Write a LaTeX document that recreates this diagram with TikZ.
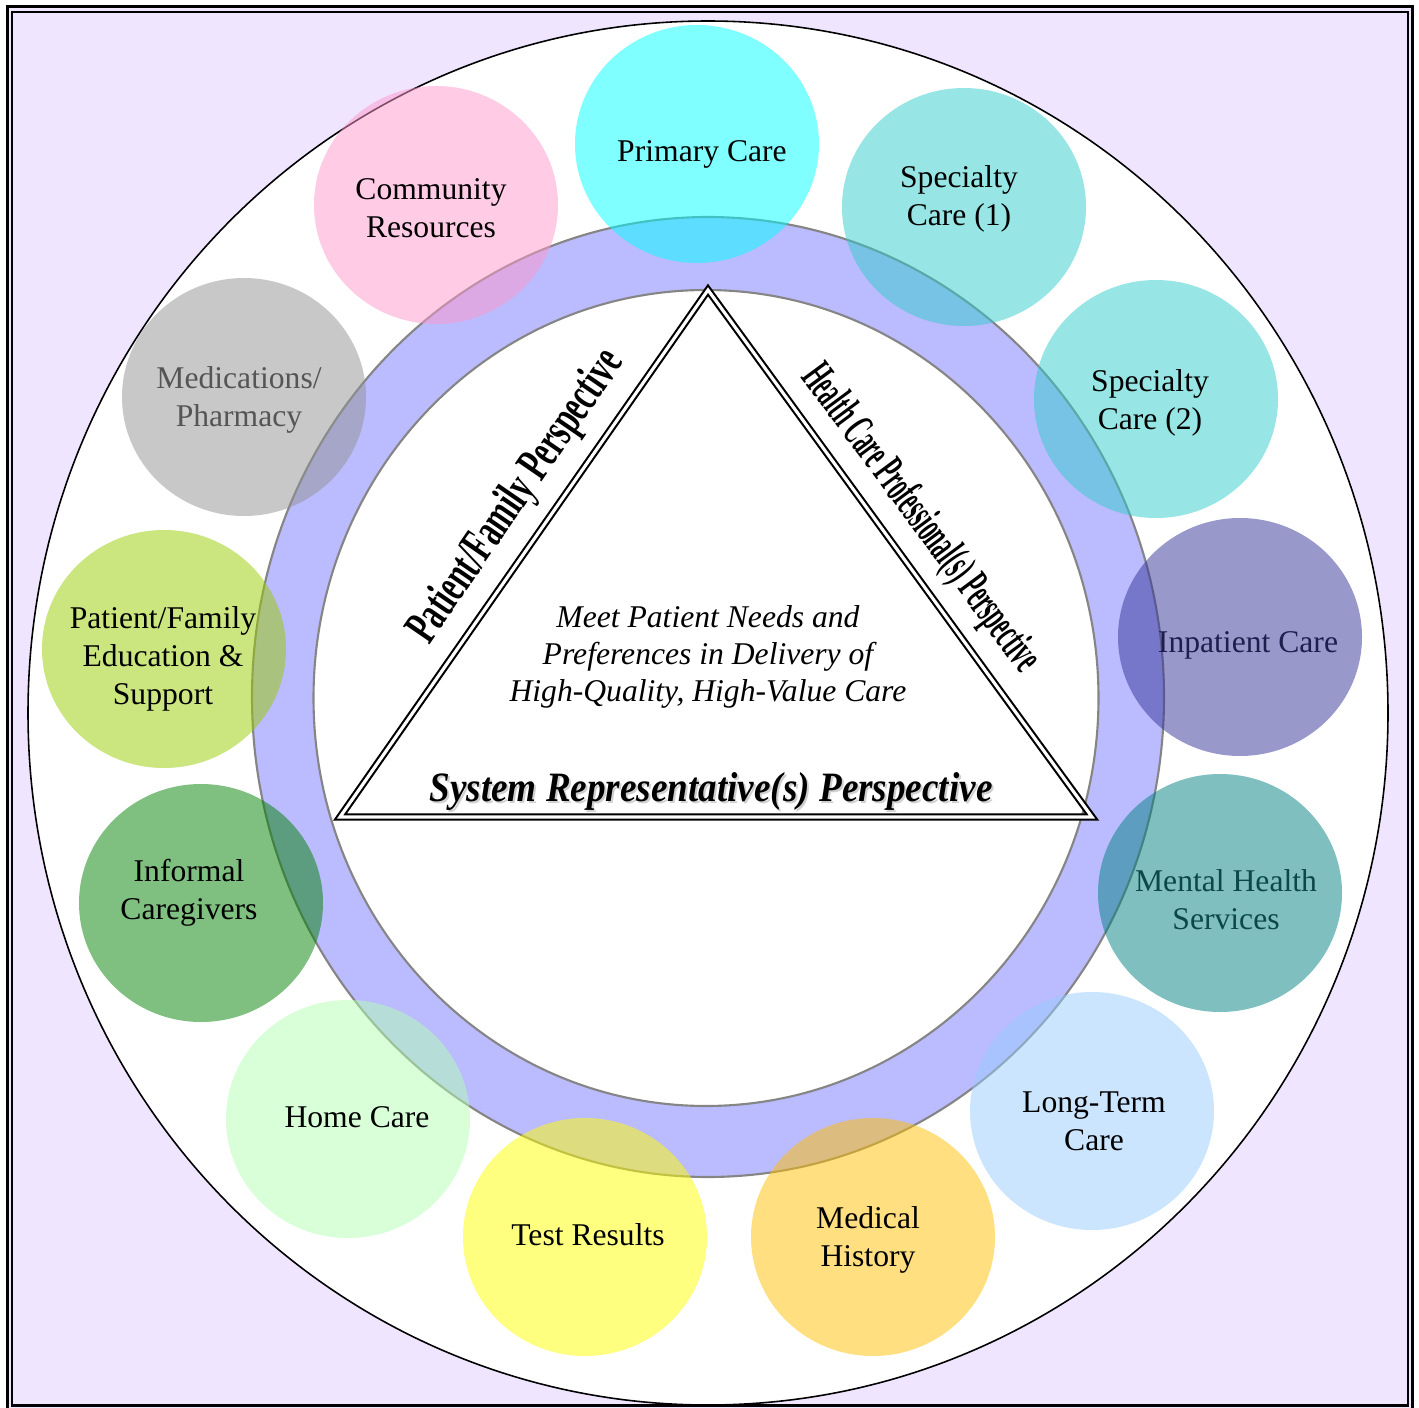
\documentclass[tikz,border=0pt]{standalone}
\usepackage{fontspec}
\setmainfont{Liberation Serif}
\usetikzlibrary{shapes.geometric}
\definecolor{lav}{HTML}{F0E5FF}
\definecolor{ringc}{HTML}{BBBBFF}
\definecolor{ringedge}{HTML}{858585}
\definecolor{cPC}{HTML}{00FFFF}
\definecolor{cSC}{HTML}{33CCCC}
\definecolor{cIN}{HTML}{333399}
\definecolor{cMH}{HTML}{008080}
\definecolor{cLT}{HTML}{99CCFF}
\definecolor{cHI}{HTML}{FFC000}
\definecolor{cTR}{HTML}{FFFF00}
\definecolor{cHC}{HTML}{B3FFB3}
\definecolor{cIC}{HTML}{008000}
\definecolor{cPF}{HTML}{99CC00}
\definecolor{cMD}{HTML}{929292}
\definecolor{cCR}{HTML}{FF99CC}
\definecolor{tMD}{HTML}{555555}
\definecolor{tIN}{HTML}{1F1F4D}
\definecolor{tMH}{HTML}{0D4747}
\begin{document}
\begin{tikzpicture}[x=0.1mm,y=-0.1mm,
  bub/.style={ellipse, minimum width=24.4mm, minimum height=23.8mm, inner sep=0pt, draw=none, fill opacity=0.5},
  lbl/.style={align=center, font=\fontsize{9}{10.8}\selectfont, inner sep=0pt},
  persp/.style={inner sep=0pt, font=\bfseries}
]
\useasboundingbox (0,0) rectangle (1419,1408);
\fill[white] (0,0) rectangle (1419,1408);
% frame
\draw[line width=0.85pt, fill=lav] (7.5,7) rectangle (1412.5,1414);
\draw[line width=0.6pt] (12,12) rectangle (1408,1405.5);
% big white circle
\node[ellipse, draw, line width=0.45pt, fill=white, inner sep=0pt, minimum width=136mm, minimum height=138.4mm] (big) at (708,713) {};
% ring
\node[ellipse, draw=ringedge, line width=0.6pt, fill=ringc, inner sep=0pt, minimum width=91.2mm, minimum height=96mm] (ring) at (708,697) {};
\node[ellipse, draw=ringedge, line width=0.6pt, fill=white, inner sep=0pt, minimum width=78.5mm, minimum height=81.6mm] (hub) at (706,698) {};
% bubbles
\node[bub, fill=cPC] (pc) at (697,144) {};
\node[bub, fill=cSC] (sc1) at (964,207) {};
\node[bub, fill=cSC] (sc2) at (1156,399) {};
\node[bub, fill=cIN] (inp) at (1240,637) {};
\node[bub, fill=cMH] (mh) at (1220,893) {};
\node[bub, fill=cLT] (lt) at (1092,1111) {};
\node[bub, fill=cHI] (hist) at (873,1237) {};
\node[bub, fill=cTR] (tr) at (585,1237) {};
\node[bub, fill=cHC] (hc) at (348,1119) {};
\node[bub, fill=cIC] (ic) at (201,903) {};
\node[bub, fill=cPF] (pf) at (164,649) {};
\node[bub, fill=cMD] (md) at (244,397) {};
\node[bub, fill=cCR] (cr) at (436,205) {};
% bubble labels
\node[lbl] (pcl) at (702,154) {Primary Care};
\node[lbl] (sc1l) at (959,199) {Specialty\\Care (1)};
\node[lbl] (sc2l) at (1150,403) {Specialty\\Care (2)};
\node[lbl, text=tIN] (inpl) at (1248,645) {Inpatient Care};
\node[lbl, text=tMH] (mhl) at (1226,900) {Mental Health\\Services};
\node[lbl] (ltl) at (1094,1121) {Long-Term\\Care};
\node[lbl] (histl) at (868,1240) {Medical\\History};
\node[lbl] (trl) at (588,1235) {Test Results};
\node[lbl] (hcl) at (357,1117) {Home Care};
\node[lbl] (icl) at (189,893) {Informal\\Caregivers};
\node[lbl] (pfl) at (163,659) {Patient/Family\\Education \&\\Support};
\node[lbl, text=tMD] (mdl) at (239,400) {Medications/\\Pharmacy};
\node[lbl] (crl) at (431,208) {Community\\Resources};
% triangle
\coordinate (apex) at (708,290);
\coordinate (bl) at (340,817);
\coordinate (br) at (1092,817);
\draw[double, line width=0.6pt, double distance=0.9pt, line join=miter] (apex) -- (br) -- (bl) -- cycle;
% center text
\node[align=center, font=\fontsize{9}{10.5}\selectfont\itshape, inner sep=0pt] (goal) at (708,657)
  {Meet Patient Needs and\\Preferences in Delivery of\\High-Quality, High-Value Care};
% perspective labels
\node[persp, rotate=55.5] (pfp) at (517,497)
  {\resizebox{34.4mm}{3.4mm}{Patient/Family Perspective}};
\node[persp, rotate=-53.5] (hcp) at (920,519)
  {\resizebox{37mm}{3.3mm}{Health Care Professional(s) Perspective}};
\node[persp, anchor=base, text=black!30, opacity=0.6] (srps) at (713,803)
  {\resizebox{56.3mm}{2.9mm}{\itshape System Representative(s) Perspective}};
\node[persp, anchor=base] (srp) at (711,801)
  {\resizebox{56.3mm}{2.9mm}{\itshape System Representative(s) Perspective}};
\end{tikzpicture}
\end{document}
